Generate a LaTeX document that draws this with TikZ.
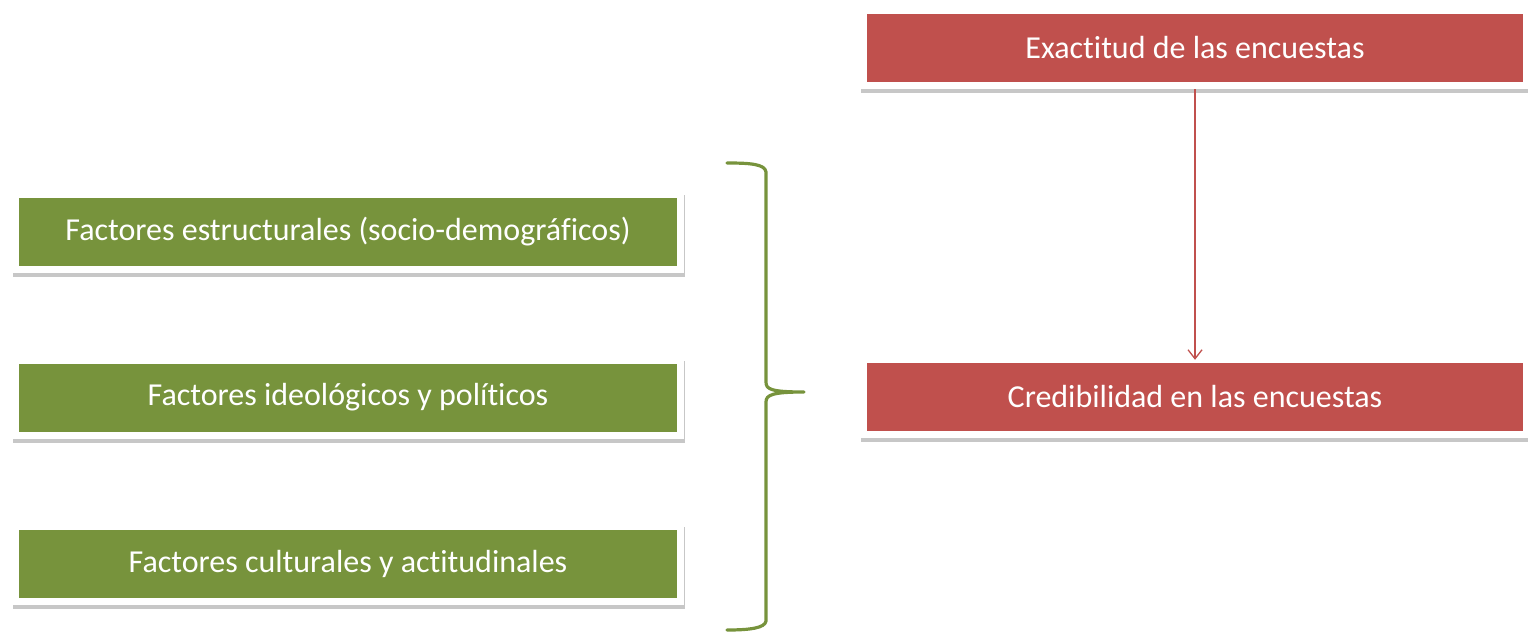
\documentclass[tikz,border=0pt]{standalone}
\usepackage{fontspec}
\setmainfont[Ligatures=NoCommon]{Carlito}
\usetikzlibrary{shadows,arrows.meta}
\definecolor{ored}{HTML}{C0504D}
\definecolor{ogreen}{HTML}{77933C}
\tikzset{
  box/.style={minimum width=672, minimum height=82, inner sep=0, fill=white, draw=none,
    drop shadow={shadow xshift=1pt, shadow yshift=-4pt, opacity=0.22, fill=black},
    text=white, font=\fontsize{32}{36}\selectfont,
    path picture={\fill[#1] ([xshift=7pt,yshift=-7pt]path picture bounding box.north west) rectangle ([xshift=-7pt,yshift=7pt]path picture bounding box.south east);}},
  conn/.style={draw=ored, line width=1.3, -{Straight Barb[length=9,width=14,line width=1.3]}},
  bracestyle/.style={draw=ogreen, line width=3.2, line cap=round, line join=round}
}
\begin{document}
\begin{tikzpicture}[x=1pt,y=-1pt]
\useasboundingbox (0,0) rectangle (1528,632);
\node[box=ogreen] (f1) at (348,231.5) {Factores estructurales (socio-demográficos)};
\node[box=ogreen] (f2) at (348,397.5) {Factores ideológicos y políticos};
\node[box=ogreen] (f3) at (348,563.5) {Factores culturales y actitudinales};
\node[box=ored, minimum width=670] (ex) at (1195,48) {Exactitud de las encuestas};
\node[box=ored, minimum width=670] (cr) at (1195,397) {Credibilidad en las encuestas};
\draw[conn] (ex.south) -- ([yshift=-4]cr.north);
\draw[bracestyle] (727,163) .. controls (750,163) and (765,164) .. (766,172)
  -- (766,382) .. controls (766,389) and (770,392) .. (804,392)
  .. controls (772,392) and (766,395) .. (766,402)
  -- (766,621) .. controls (765,628) and (750,630) .. (727,630);
\end{tikzpicture}
\end{document}
